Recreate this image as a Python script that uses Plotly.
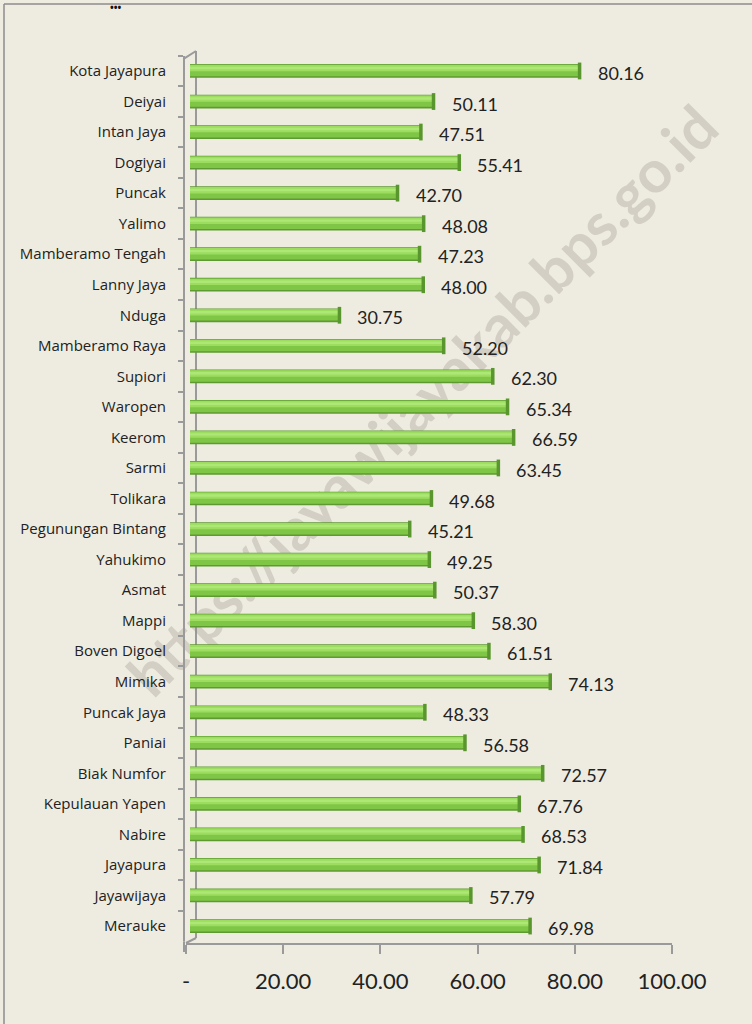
import plotly.graph_objects as go

# Regencies / cities, listed from the bottom of the chart upwards
regions = [
    "Merauke", "Jayawijaya", "Jayapura", "Nabire", "Kepulauan Yapen",
    "Biak Numfor", "Paniai", "Puncak Jaya", "Mimika", "Boven Digoel",
    "Mappi", "Asmat", "Yahukimo", "Pegunungan Bintang", "Tolikara",
    "Sarmi", "Keerom", "Waropen", "Supiori", "Mamberamo Raya",
    "Nduga", "Lanny Jaya", "Mamberamo Tengah", "Yalimo", "Puncak",
    "Dogiyai", "Intan Jaya", "Deiyai", "Kota Jayapura",
]
values = [
    69.98, 57.79, 71.84, 68.53, 67.76,
    72.57, 56.58, 48.33, 74.13, 61.51,
    58.30, 50.37, 49.25, 45.21, 49.68,
    63.45, 66.59, 65.34, 62.30, 52.20,
    30.75, 48.00, 47.23, 48.08, 42.70,
    55.41, 47.51, 50.11, 80.16,
]
tick_vals = [0, 20, 40, 60, 80, 100]
tick_text = ["-", "20.00", "40.00", "60.00", "80.00", "100.00"]
watermark = "https://jayawijayakab.bps.go.id"

W, H = 752, 1024
BG = "#EEECE1"
AXIS = "#9A9A9A"
FONT = "Lato"
CAT_FONT = "Open Sans"


def px(x):
    return x / W


def py(y):
    return 1 - y / H


# pixel geometry of the plotting area
x_left, x_right = 186, 672        # value axis 0 .. 100
depth = 4                         # 3-D depth offset of the bars
y_top, y_bot = 55.7, 941.3        # category band
x_line_y = 944
front_x = 184
back_x = 196

fig = go.Figure()

# transparent trace so the value axis is laid out and drawn
fig.add_trace(go.Bar(
    x=values, y=regions, orientation="h", xaxis="x", yaxis="y",
    marker=dict(color="rgba(0,0,0,0)", line=dict(width=0)),
    hoverinfo="skip", showlegend=False,
))

# cylinder-like bars built from overlaid layers
layers = [
    dict(width=0.45, offset=-0.225, color="#5E9A31"),
    dict(width=0.37, offset=-0.175, color="#80C646"),
    dict(width=0.21, offset=-0.01, color="#9CDD60"),
    dict(width=0.08, offset=0.06, color="#ADE776"),
]
for lay in layers:
    fig.add_trace(go.Bar(
        x=values, y=regions, orientation="h",
        width=lay["width"], offset=lay["offset"],
        marker=dict(color=lay["color"], line=dict(width=0)),
        xaxis="x2", yaxis="y", hoverinfo="skip", showlegend=False,
    ))

# darker rounded end of each cylinder
fig.add_trace(go.Scatter(
    x=values, y=regions, mode="markers", xaxis="x2", yaxis="y",
    marker=dict(symbol="line-ns-open", size=12, color="#5A962E",
                line=dict(color="#5A962E", width=3.5)),
    hoverinfo="skip", showlegend=False, cliponaxis=False,
))

# value labels
annotations = []
for r, v in zip(regions, values):
    annotations.append(dict(
        x=v, y=r, xref="x2", yref="y", text=f"{v:.2f}",
        showarrow=False, xanchor="left", yanchor="middle",
        xshift=16, yshift=-2,
        font=dict(family=FONT, size=18, color="#222222"),
    ))
annotations.append(dict(
    x=px(108), y=1, xref="paper", yref="paper", text="<b>•••</b>",
    showarrow=False, yanchor="top", yshift=2,
    font=dict(size=10, color="#111111"),
))

line_style = dict(color=AXIS, width=2)
frame_style = dict(color="#8C8C8C", width=1.5)
shapes = [
    # outer frame: top and left edges
    dict(type="line", xref="paper", yref="paper",
         x0=px(4), y0=py(4), x1=1, y1=py(4), line=frame_style, layer="below"),
    dict(type="line", xref="paper", yref="paper",
         x0=px(4), y0=py(4), x1=px(4), y1=0, line=frame_style, layer="below"),
    # back wall edge and its joins to the front axis
    dict(type="line", xref="paper", yref="paper",
         x0=px(back_x), y0=py(51), x1=px(back_x), y1=py(938),
         line=line_style, layer="below"),
    dict(type="line", xref="paper", yref="paper",
         x0=px(front_x), y0=py(y_top + 3), x1=px(back_x), y1=py(51),
         line=line_style, layer="below"),
    dict(type="line", xref="paper", yref="paper",
         x0=px(front_x + 2), y0=py(x_line_y - 1), x1=px(back_x), y1=py(938),
         line=line_style, layer="below"),
    dict(type="line", xref="paper", yref="paper",
         x0=px(front_x), y0=py(y_bot), x1=px(front_x), y1=py(952),
         line=line_style, layer="below"),
    # faint diagonal watermark behind the bars
    dict(type="line", xref="paper", yref="paper",
         x0=px(120), y0=py(700), x1=px(722), y1=py(98),
         line=dict(color="rgba(0,0,0,0)", width=0), layer="below",
         label=dict(text=watermark, textposition="middle", yanchor="middle",
                    font=dict(family=FONT, size=59, weight="bold",
                              color="rgba(150,140,130,0.30)"))),
]

fig.update_layout(
    width=W, height=H,
    margin=dict(l=0, r=0, t=0, b=0, autoexpand=False),
    paper_bgcolor=BG, plot_bgcolor="rgba(0,0,0,0)",
    barmode="overlay",
    showlegend=False,
    xaxis=dict(
        domain=[px(x_left), px(x_right)], range=[0, 100],
        anchor="free", position=py(x_line_y), automargin=False,
        tickvals=tick_vals, ticktext=tick_text,
        ticks="outside", ticklen=9, tickwidth=2, tickcolor=AXIS,
        showline=True, linecolor=AXIS, linewidth=2,
        showgrid=False, zeroline=False, ticklabelstandoff=9,
        tickfont=dict(family=FONT, size=22, color="#222222"),
    ),
    xaxis2=dict(
        domain=[px(x_left + depth), px(x_right + depth)], range=[0, 100],
        anchor="y", visible=False, showgrid=False, zeroline=False,
        automargin=False,
    ),
    yaxis=dict(
        type="category", categoryorder="array", categoryarray=regions,
        domain=[py(y_bot), py(y_top)], range=[-0.5, len(regions) - 0.5],
        anchor="free", position=px(front_x), automargin=False,
        showline=True, linecolor=AXIS, linewidth=2,
        ticks="outside", ticklen=5, tickwidth=1.5, tickcolor=AXIS,
        tickson="boundaries", showgrid=False, zeroline=False,
        ticklabelstandoff=14,
        tickfont=dict(family=CAT_FONT, size=15, color="#222222"),
    ),
    annotations=annotations,
    shapes=shapes,
)

fig.write_html("out.html")
